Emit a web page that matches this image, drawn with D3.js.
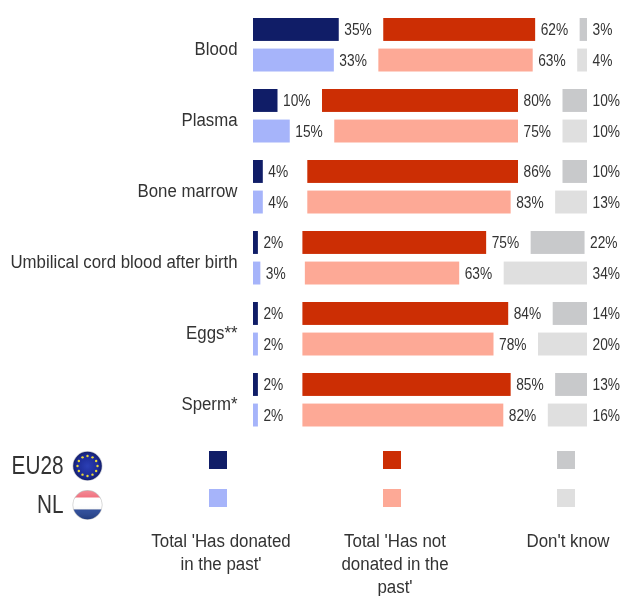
<!DOCTYPE html>
<html><head><meta charset="utf-8">
<script src="https://cdn.jsdelivr.net/npm/d3@7"></script>
<style>html,body{margin:0;padding:0;background:#fff}svg{display:block;filter:blur(0.35px)}text{font-family:"Liberation Sans",Arial,sans-serif;fill:#333}</style>
</head><body><svg id="c" width="623" height="596"></svg>
<script>
const categories=["Blood","Plasma","Bone marrow","Umbilical cord blood after birth","Eggs**","Sperm*"];
const groups=["EU28","NL"];
const eu28Donated=[35,10,4,2,2,2];
const eu28NotDonated=[62,80,86,75,84,85];
const eu28DontKnow=[3,10,10,22,14,13];
const nlDonated=[33,15,4,3,2,2];
const nlNotDonated=[63,75,83,63,78,82];
const nlDontKnow=[4,10,13,34,20,16];
const legendLabels=[["Total 'Has donated","in the past'"],["Total 'Has not","donated in the","past'"],["Don't know"]];
const colors={EU28:["#101d67","#cc2e04","#c8c9cb"],NL:["#a6b4fa","#fda996","#dfdfdf"]};

const svg=d3.select("#c");
const x=d3.scaleLinear().domain([0,100]).range([0,245]);
const left=253, gap=44.5;
const yCat=d3.scaleBand().domain(categories).range([18,444]).paddingInner(0).paddingOuter(0);
const yGrp=d3.scaleBand().domain(groups).range([0,53.5]).paddingInner(0.25);
function txt(g,s,px,py,size,anchor,scale){
  return g.append("text").text(s).attr("font-size",size).attr("text-anchor",anchor||"start")
   .attr("transform",`translate(${px},${py}) scale(${scale},1)`);
}
const rows=[];
categories.forEach((c,i)=>{
  [["EU28",[eu28Donated[i],eu28NotDonated[i],eu28DontKnow[i]]],["NL",[nlDonated[i],nlNotDonated[i],nlDontKnow[i]]]]
  .forEach(([grp,vals])=>{
    let cur=left;
    vals.forEach((v,k)=>{
      rows.push({c,grp,v,k,x0:cur,w:x(v)});
      cur+=x(v)+gap;
    });
  });
});
const gBars=svg.append("g");
gBars.selectAll("rect").data(rows).join("rect")
 .attr("x",d=>d.x0).attr("width",d=>d.w)
 .attr("y",d=>yCat(d.c)+yGrp(d.grp)).attr("height",yGrp.bandwidth())
 .attr("fill",d=>colors[d.grp][d.k]);
const gLab=svg.append("g");
rows.forEach(d=>{
  txt(gLab,d.v+"%",d.x0+d.w+5.5,yCat(d.c)+yGrp(d.grp)+yGrp.bandwidth()/2+5.5,16,"start",0.86);
});
const gCat=svg.append("g");
categories.forEach(c=>{
  txt(gCat,c,237.5,yCat(c)+36.5,19,"end",0.885);
});
// legend
const legendX=d3.scaleOrdinal().domain([0,1,2]).range([209,383,557]);
const legendY=d3.scaleOrdinal().domain(groups).range([451,489]);
const gLeg=svg.append("g");
groups.forEach(grp=>{
  [0,1,2].forEach(k=>{
    gLeg.append("rect").attr("x",legendX(k)).attr("y",legendY(grp)).attr("width",18).attr("height",18).attr("fill",colors[grp][k]);
  });
});
txt(gLeg,"EU28",63.5,473.5,25,"end",0.83);
txt(gLeg,"NL",63.5,512.5,25,"end",0.83);
const centres=[221,395,568];
legendLabels.forEach((lines,k)=>{
  lines.forEach((l,j)=>txt(gLeg,l,centres[k],547+j*23,19,"middle",0.89));
});
// flags
const defs=svg.append("defs");
defs.append("clipPath").attr("id","fc").append("circle").attr("r",14.3);
const gEu=defs.append("radialGradient").attr("id","eu").attr("cx","50%").attr("cy","50%").attr("r","55%");
gEu.append("stop").attr("offset","0%").attr("stop-color","#2b3fb5");
gEu.append("stop").attr("offset","70%").attr("stop-color","#1c2a94");
gEu.append("stop").attr("offset","100%").attr("stop-color","#0f1a5a");
const gloss=defs.append("linearGradient").attr("id","gl").attr("x1",0).attr("y1",0).attr("x2",0).attr("y2",1);
gloss.append("stop").attr("offset","0%").attr("stop-color","#fff").attr("stop-opacity",0.3);
gloss.append("stop").attr("offset","45%").attr("stop-color","#fff").attr("stop-opacity",0);
gloss.append("stop").attr("offset","100%").attr("stop-color","#000").attr("stop-opacity",0.2);
const fe=svg.append("g").attr("transform","translate(87.5,466)");
fe.append("circle").attr("r",15).attr("fill","#c9cbd4");
fe.append("circle").attr("r",14.3).attr("fill","url(#eu)");
d3.range(12).forEach(i=>{
  const a=i*Math.PI/6;
  fe.append("circle").attr("cx",10*Math.cos(a)).attr("cy",10*Math.sin(a)).attr("r",1.2).attr("fill","#e8d83a");
});
const fn=svg.append("g").attr("transform","translate(87.5,505)");
fn.append("circle").attr("r",15).attr("fill","#c9c9c9");
const fg=fn.append("g").attr("clip-path","url(#fc)");
fg.append("rect").attr("x",-15).attr("y",-15).attr("width",30).attr("height",8).attr("fill","#ee5a6a");
fg.append("rect").attr("x",-15).attr("y",-7.5).attr("width",30).attr("height",12).attr("fill","#ffffff");
fg.append("rect").attr("x",-15).attr("y",4.5).attr("width",30).attr("height",11).attr("fill","#2a4a9c");
fn.append("circle").attr("r",14.3).attr("fill","url(#gl)");
</script></body></html>
